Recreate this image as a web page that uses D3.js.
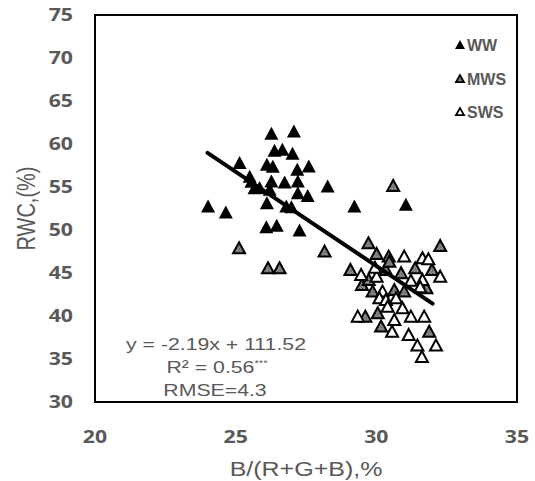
<!DOCTYPE html>
<html>
<head>
<meta charset="utf-8">
<script src="https://cdn.jsdelivr.net/npm/d3@7"></script>
<style>
  html, body { margin: 0; padding: 0; background: #fff; }
  svg { display: block; }
</style>
</head>
<body>
<svg id="chart" width="535" height="481"></svg>
<script>
// ---------- data ----------
const xTicks = [20, 25, 30, 35];
const yTicks = [30, 35, 40, 45, 50, 55, 60, 65, 70, 75];
const seriesNames = ["WW", "MWS", "SWS"];

const wwX = [26.27, 27.07, 25.14, 26.38, 26.66, 27.02, 26.11, 26.32, 27.19, 27.60, 25.50, 25.56, 25.67, 25.85, 26.27, 26.74, 27.21, 26.21, 27.21, 27.56, 28.27, 26.11, 26.80, 26.98, 24.02, 24.65, 29.22, 31.05, 26.09, 26.46, 27.27];
const wwY = [61.16, 61.43, 57.76, 59.19, 59.30, 58.84, 57.56, 57.33, 56.98, 57.36, 56.16, 55.58, 54.85, 54.88, 55.62, 55.50, 55.62, 54.65, 54.27, 53.95, 55.03, 53.10, 52.71, 52.64, 52.71, 52.01, 52.71, 52.91, 50.31, 50.47, 49.92];

const mwsX = [25.12, 26.15, 26.56, 28.16, 30.60, 29.72, 32.27, 30.01, 30.44, 29.08, 30.88, 31.38, 31.98, 30.34, 29.49, 29.73, 29.87, 30.64, 30.99, 31.78, 29.61, 30.05, 30.17, 31.88, 30.46];
const mwsY = [47.87, 45.55, 45.55, 47.48, 55.12, 48.45, 48.14, 47.21, 46.90, 45.35, 44.97, 45.55, 45.35, 45.35, 43.60, 44.19, 42.83, 43.02, 42.83, 43.22, 39.92, 40.31, 38.76, 38.17, 46.31];

const swsX = [30.99, 31.64, 31.85, 29.46, 30.01, 31.23, 31.64, 32.27, 30.22, 31.56, 30.11, 30.34, 30.70, 30.40, 30.93, 29.34, 30.64, 31.23, 31.70, 30.56, 31.15, 31.46, 32.12, 31.62, 29.95];
const swsY = [46.90, 46.71, 46.59, 44.77, 44.57, 44.10, 44.19, 44.57, 42.83, 43.34, 42.06, 41.86, 42.06, 41.08, 40.90, 39.92, 39.53, 39.92, 39.92, 38.17, 37.79, 36.55, 36.55, 35.23, 45.60];

const fitSlope = -2.19;
const fitIntercept = 111.52;
const fitRange = [24, 32];
const annotLines = ["y = -2.19x + 111.52", "R² = 0.56", "RMSE=4.3"];

// ---------- layout ----------
const svg = d3.select("#chart");
const pLeft = 95, pRight = 517, pTop = 15, pBottom = 402;
const x = d3.scaleLinear().domain([20, 35]).range([pLeft, pRight]);
const y = d3.scaleLinear().domain([30, 75]).range([pBottom, pTop]);
const grey = "#595959";
const SX = 1.25; // horizontal stretch of the reference's text
const sansFamily = "'Liberation Sans', Arial, sans-serif";

// pattern for MWS
const defs = svg.append("defs");
const pat = defs.append("pattern").attr("id", "dots").attr("patternUnits", "userSpaceOnUse")
  .attr("width", 3).attr("height", 3);
pat.append("rect").attr("width", 3).attr("height", 3).attr("fill", "#9a9a9a");
pat.append("rect").attr("x", 0).attr("y", 0).attr("width", 1.3).attr("height", 1.3).attr("fill", "#3a3a3a");
pat.append("rect").attr("x", 1.5).attr("y", 1.5).attr("width", 1.2).attr("height", 1.2).attr("fill", "#555");

// custom triangle symbol
const tri = (w, h) => ({
  draw(ctx) {
    ctx.moveTo(0, -h * 0.55);
    ctx.lineTo(w / 2, h * 0.45);
    ctx.lineTo(-w / 2, h * 0.45);
    ctx.closePath();
  }
});
const solidTri = d3.symbol().type(tri(14, 13));
const openTri = d3.symbol().type(tri(12, 11));

// frame
svg.append("rect").attr("x", x(20)).attr("y", y(75))
  .attr("width", x(35) - x(20)).attr("height", y(30) - y(75))
  .attr("fill", "none").attr("stroke", "#000").attr("stroke-width", 2);

// stretched text helper
const stretchText = (g, tx, ty, txt, opts) => {
  const gg = g.append("g").attr("transform", `translate(${tx},${ty}) scale(${SX},1)`);
  return gg.append("text").text(txt)
    .attr("fill", grey)
    .attr("font-family", opts.family || "'Open Sans', sans-serif")
    .attr("font-size", opts.size)
    .attr("font-weight", opts.weight || "normal")
    .attr("text-anchor", opts.anchor || "middle");
};

const axG = svg.append("g");
xTicks.forEach(v => stretchText(axG, x(v), 443, v, { size: 17, weight: "bold" }));
yTicks.forEach(v => stretchText(axG, 73, y(v) + 6, v, { size: 17, weight: "bold", anchor: "end" }));

// axis titles
stretchText(svg, (pLeft + pRight) / 2, 476, "B/(R+G+B),%", { size: 20, family: sansFamily });
svg.append("g").attr("transform", `translate(35,${(pTop + pBottom) / 2}) scale(${SX},1) rotate(-90)`)
  .append("text").text("RWC,(%)")
  .attr("fill", grey).attr("font-family", sansFamily)
  .attr("font-size", 20).attr("text-anchor", "middle");

// points
const plot = svg.append("g");
const mk = (xs, ys) => xs.map((v, i) => [v, ys[i]]);
plot.selectAll(".ww").data(mk(wwX, wwY)).join("path").attr("class", "ww")
  .attr("transform", d => `translate(${x(d[0])},${y(d[1])})`)
  .attr("d", solidTri()).attr("fill", "#000");
plot.selectAll(".mws").data(mk(mwsX, mwsY)).join("path").attr("class", "mws")
  .attr("transform", d => `translate(${x(d[0])},${y(d[1])})`)
  .attr("d", openTri()).attr("fill", "url(#dots)").attr("stroke", "#000").attr("stroke-width", 2);
plot.selectAll(".sws").data(mk(swsX, swsY)).join("path").attr("class", "sws")
  .attr("transform", d => `translate(${x(d[0])},${y(d[1])})`)
  .attr("d", openTri()).attr("fill", "#fff").attr("stroke", "#000").attr("stroke-width", 2);

// regression line
svg.append("line")
  .attr("x1", x(fitRange[0])).attr("y1", y(fitSlope * fitRange[0] + fitIntercept))
  .attr("x2", x(fitRange[1])).attr("y2", y(fitSlope * fitRange[1] + fitIntercept))
  .attr("stroke", "#000").attr("stroke-width", 4).attr("stroke-linecap", "round");

// annotation
const ann = svg.append("g");
const annY = [350, 373, 396];
stretchText(ann, 216, annY[0], annotLines[0], { size: 17, family: sansFamily });
const r2 = stretchText(ann, 217, annY[1], "", { size: 17, family: sansFamily });
r2.append("tspan").text(annotLines[1]);
r2.append("tspan").text("***").attr("font-size", 9).attr("dy", -7);
stretchText(ann, 215, annY[2], annotLines[2], { size: 17, family: sansFamily });

// legend
const leg = svg.append("g");
const legY = [45, 79, 112];
const legSolid = d3.symbol().type(tri(10, 9));
const legOpen = d3.symbol().type(tri(8, 7));
seriesNames.forEach((name, i) => {
  const p = leg.append("path").attr("transform", `translate(460,${legY[i]})`);
  if (i === 0) p.attr("d", legSolid()).attr("fill", "#000");
  else p.attr("d", legOpen()).attr("fill", i === 1 ? "url(#dots)" : "#fff").attr("stroke", "#000").attr("stroke-width", 1.8);
  leg.append("text").text(name).attr("x", 467).attr("y", legY[i] + 5.5)
    .attr("fill", grey).attr("font-family", sansFamily).attr("font-size", 16).attr("font-weight", "bold");
});
</script>
</body>
</html>
